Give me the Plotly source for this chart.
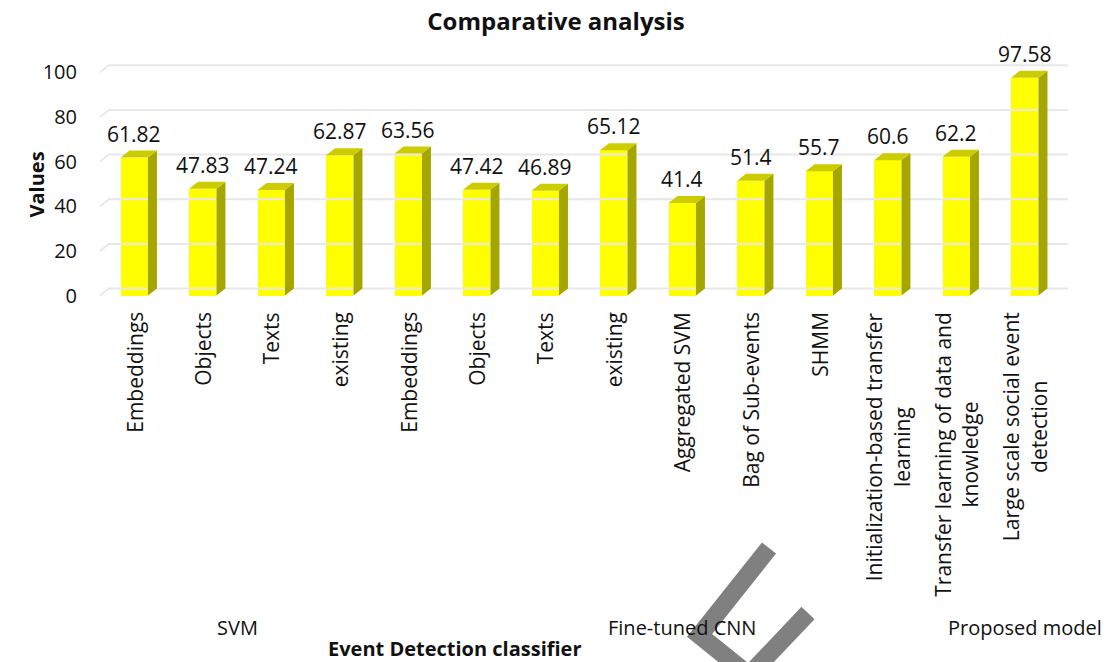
import plotly.graph_objects as go

# ---- data -------------------------------------------------------------
categories = [
    "Embeddings", "Objects", "Texts", "existing",
    "Embeddings", "Objects", "Texts", "existing",
    "Aggregated SVM", "Bag of Sub-events", "SHMM",
    "Initialization-based transfer<br>learning",
    "Transfer learning of data and<br>knowledge",
    "Large scale social event<br>detection",
]
values = [61.82, 47.83, 47.24, 62.87, 63.56, 47.42, 46.89, 65.12,
          41.4, 51.4, 55.7, 60.6, 62.2, 97.58]
groups = ["SVM"] * 4 + ["Fine-tuned CNN"] * 9 + ["Proposed model"]
y_ticks = [0, 20, 40, 60, 80, 100]

# ---- geometry ---------------------------------------------------------
W, H = 1109, 662
M_L, M_R, M_T, M_B = 100, 41, 41, 362
PLOT_W = W - M_L - M_R
PLOT_H = H - M_T - M_B
Y_MIN, Y_MAX = -2, 114
DEPTH_PX, RISE_PX = 9, 7          # pseudo-3D depth offset in pixels

n = len(categories)
# x range is widened on the right by the depth so the back wall fits
DX = DEPTH_PX * n / (PLOT_W - DEPTH_PX)
X_MIN, X_MAX = -0.5, n - 0.5 + DX
px_x = PLOT_W / (X_MAX - X_MIN)
px_y = PLOT_H / (Y_MAX - Y_MIN)
DY = RISE_PX / px_y
BAR_W = 0.4
HALF = BAR_W / 2

FRONT = "#FFFF00"
TOP = "#CCCC00"
SIDE = "#A6A600"
GRID = "#E8E8E8"
FONT = "Open Sans"
TXT = "#111111"


def paper_x(px):
    return (px - M_L) / PLOT_W


def paper_y(py):
    return (H - M_B - py) / PLOT_H


fig = go.Figure()

# back-wall gridlines with a short slanted floor/side segment
gx, gy = [], []
for t in y_ticks:
    gx += [X_MIN, X_MIN + DX, X_MAX, None]
    gy += [t, t + DY, t + DY, None]
fig.add_trace(go.Scatter(x=gx, y=gy, mode="lines",
                         line=dict(color=GRID, width=2),
                         hoverinfo="skip", showlegend=False))

# front faces
idx = list(range(n))
fig.add_trace(go.Bar(x=idx, y=values, width=BAR_W,
                     marker=dict(color=FRONT, line=dict(width=0)),
                     hoverinfo="skip", showlegend=False))

# side and top faces
sx, sy, tx, ty = [], [], [], []
for i, v in enumerate(values):
    r = i + HALF
    l = i - HALF
    sx += [r, r + DX, r + DX, r, r, None]
    sy += [0, DY, v + DY, v, 0, None]
    tx += [l, l + DX, r + DX, r, l, None]
    ty += [v, v + DY, v + DY, v, v, None]
fig.add_trace(go.Scatter(x=sx, y=sy, mode="lines", fill="toself",
                         fillcolor=SIDE, line=dict(width=0, color=SIDE),
                         hoverinfo="skip", showlegend=False))
fig.add_trace(go.Scatter(x=tx, y=ty, mode="lines", fill="toself",
                         fillcolor=TOP, line=dict(width=0, color=TOP),
                         hoverinfo="skip", showlegend=False))

ann = []
# value labels above bars
for i, v in enumerate(values):
    ann.append(dict(x=i, y=v, xref="x", yref="y", text=str(v),
                    showarrow=False, yanchor="middle", yshift=24,
                    font=dict(family=FONT, size=21, color=TXT)))

# rotated category labels
for i, c in enumerate(categories):
    ann.append(dict(x=i, y=paper_y(310), xref="x", yref="paper", text=c,
                    showarrow=False, textangle=-90, align="center",
                    xanchor="center", yanchor="top",
                    font=dict(family=FONT, size=21, color=TXT)))

# group labels centred over each group's span
seen = []
for g in groups:
    if g not in seen:
        seen.append(g)
for g in seen:
    members = [i for i, gg in enumerate(groups) if gg == g]
    centre = (members[0] + members[-1]) / 2
    ann.append(dict(x=centre, y=paper_y(627), xref="x", yref="paper",
                    text=g, showarrow=False, yanchor="middle",
                    font=dict(family=FONT, size=20, color=TXT)))

# axis titles
ann.append(dict(x=paper_x(455), y=paper_y(648), xref="paper", yref="paper",
                text="<b>Event Detection classifier</b>", showarrow=False,
                yanchor="middle",
                font=dict(family=FONT, size=20, color=TXT)))
ann.append(dict(x=paper_x(20), y=paper_y(185), xref="paper", yref="paper",
                text="<b>Values</b>", showarrow=False, textangle=-90,
                font=dict(family=FONT, size=20, color=TXT)))

# grey chevron mark near the bottom
shapes = []
for pts in ([(769, 548), (699.6, 635.4), (745, 672)],
            [(808, 613), (752, 672)]):
    path = "M " + " L ".join(f"{paper_x(a):.5f},{paper_y(b):.5f}" for a, b in pts)
    shapes.append(dict(type="path", path=path, xref="paper", yref="paper",
                       line=dict(color="#808080", width=18), layer="above"))

fig.update_layout(
    width=W, height=H,
    margin=dict(l=M_L, r=M_R, t=M_T, b=M_B),
    paper_bgcolor="white", plot_bgcolor="white",
    title=dict(text="<b>Comparative analysis</b>", x=556 / W, y=1 - 22 / H,
               xanchor="center", yanchor="middle",
               font=dict(family=FONT, size=24, color=TXT)),
    xaxis=dict(range=[X_MIN, X_MAX], showticklabels=False, showgrid=False,
               zeroline=False, showline=False, fixedrange=True),
    yaxis=dict(range=[Y_MIN, Y_MAX], tickvals=y_ticks, showgrid=False,
               zeroline=False, showline=False, ticks="outside", ticklen=18,
               tickcolor="rgba(0,0,0,0)",
               tickfont=dict(family=FONT, size=20, color=TXT),
               fixedrange=True),
    bargap=0,
    annotations=ann,
    shapes=shapes,
    showlegend=False,
)

fig.write_html("out.html")
